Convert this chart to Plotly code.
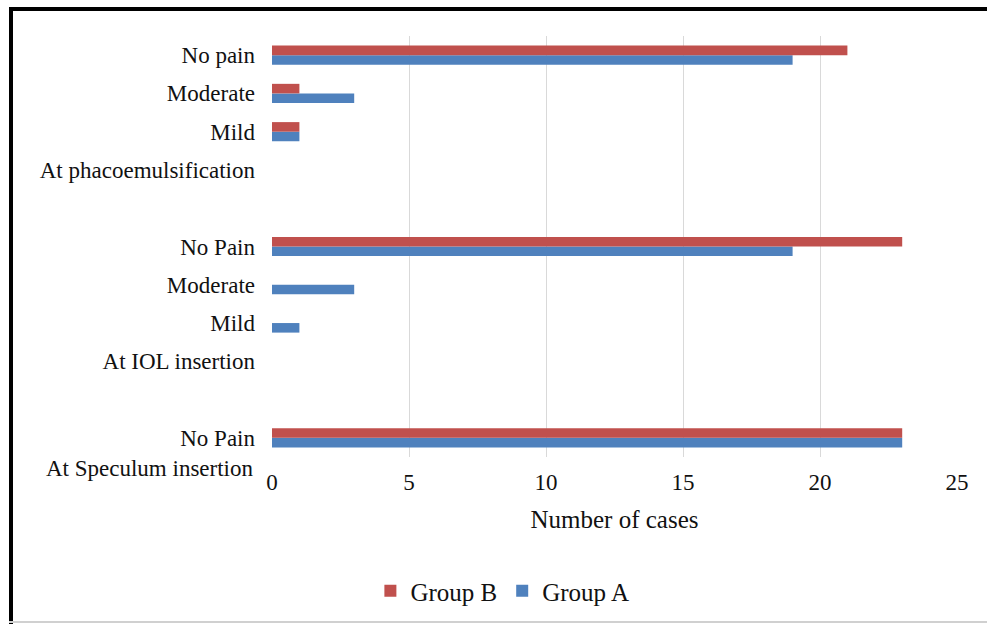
import plotly.graph_objects as go

# Category rows from bottom to top (blank rows are spacers)
row_labels = ["No Pain", "", "At IOL insertion", "Mild", "Moderate", "No Pain", "",
              "At phacoemulsification", "Mild", "Moderate", "No pain"]
bottom_label = "At Speculum insertion"
group_a = [23, None, None, 1, 3, 19, None, None, 1, 3, 19]
group_b = [23, None, None, 0, 0, 23, None, None, 1, 1, 21]
x_ticks = [0, 5, 10, 15, 20, 25]

positions = list(range(len(row_labels)))

FONT = "Liberation Serif"
fig = go.Figure()
fig.add_trace(go.Bar(name="Group A", y=positions, x=group_a, orientation="h",
                     marker=dict(color="#4F81BD", line=dict(width=0))))
fig.add_trace(go.Bar(name="Group B", y=positions, x=group_b, orientation="h",
                     marker=dict(color="#C0504D", line=dict(width=0))))

W, H = 987, 624
L, R, T, B = 272, 30, 36, 167
pw, ph = W - L - R, H - T - B

def px(x):
    return (x - L) / pw

def py(y):
    return (H - B - y) / ph

fig.update_layout(
    width=W, height=H,
    margin=dict(l=L, r=R, t=T, b=B),
    paper_bgcolor="white", plot_bgcolor="white",
    barmode="group", bargap=0.5, bargroupgap=0,
    font=dict(family=FONT, size=23, color="#111111"),
    xaxis=dict(range=[0, 25], tickvals=x_ticks, showgrid=True, gridcolor="#D9D9D9",
               gridwidth=1, zeroline=False, showline=False, ticks="",
               ticklabelstandoff=9, tickfont=dict(size=23),
               title=dict(text="Number of cases", font=dict(size=25), standoff=16)),
    yaxis=dict(range=[-0.5, len(row_labels) - 0.5], tickvals=positions, ticktext=row_labels,
               showgrid=False, zeroline=False, showline=False, ticks="",
               ticklabelstandoff=16, tickfont=dict(size=23)),
    legend=dict(orientation="h", traceorder="reversed", xref="container", x=0.509,
                xanchor="center", yref="container", y=(H - 591) / H, yanchor="middle",
                font=dict(size=25), itemwidth=30),
    showlegend=True,
)

fig.add_annotation(text=bottom_label, xref="paper", yref="paper", x=px(255), y=py(468),
                   xanchor="right", yanchor="middle", showarrow=False,
                   font=dict(family=FONT, size=23, color="#111111"))

# chart frame
fig.add_shape(type="line", xref="paper", yref="paper", x0=px(9), x1=px(990), y0=py(9), y1=py(9),
              line=dict(color="black", width=4))
fig.add_shape(type="line", xref="paper", yref="paper", x0=px(11), x1=px(11), y0=py(7), y1=py(630),
              line=dict(color="black", width=4))
fig.add_shape(type="line", xref="paper", yref="paper", x0=px(9), x1=px(990), y0=py(622), y1=py(622),
              line=dict(color="#D0D0D0", width=2))

fig.write_html("out.html")
